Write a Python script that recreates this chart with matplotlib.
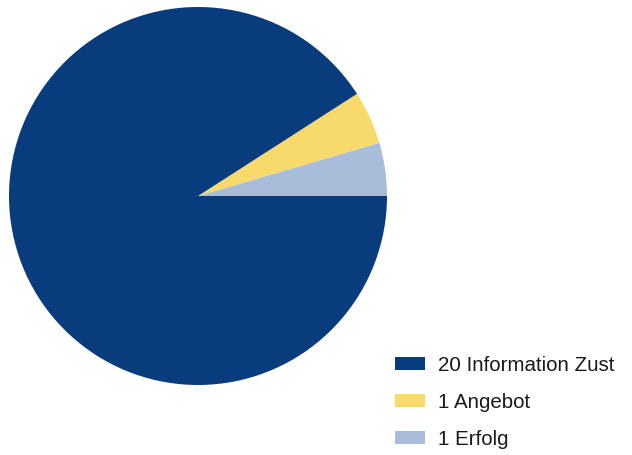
import matplotlib
matplotlib.use('Agg')
from matplotlib import pyplot as plt

# Daten
labels = ['20 Information Zust', '1 Angebot', '1 Erfolg']
werte = [20, 1, 1]
farben = ['#083c7d', '#f8da6c', '#a9bddb']

plt.rcParams['font.family'] = ['Liberation Sans', 'DejaVu Sans']

fig = plt.figure(figsize=(6.32, 4.55), dpi=100)
ax = fig.add_axes([9 / 632, 1 - 385 / 455, 378 / 632, 378 / 455])

# Reihenfolge gegen den Uhrzeigersinn ab 0 Grad: Erfolg, Angebot, Information
wedges, _ = ax.pie(werte[::-1], colors=farben[::-1], startangle=0,
                   counterclock=True, radius=1,
                   wedgeprops=dict(linewidth=0, antialiased=True))
ax.set_xlim(-1, 1)
ax.set_ylim(-1, 1)
ax.set_aspect('equal')
ax.axis('off')

handles = wedges[::-1]
fig.legend(handles, labels, loc='upper left',
           bbox_to_anchor=(395 / 632, 1 - 356 / 455),
           frameon=False, fontsize=14.8, borderpad=0, borderaxespad=0,
           handlelength=1.48, handleheight=0.6, handletextpad=0.62,
           labelspacing=0.88, labelcolor='#1a1a1a')

fig.savefig('out.png', dpi=100)
